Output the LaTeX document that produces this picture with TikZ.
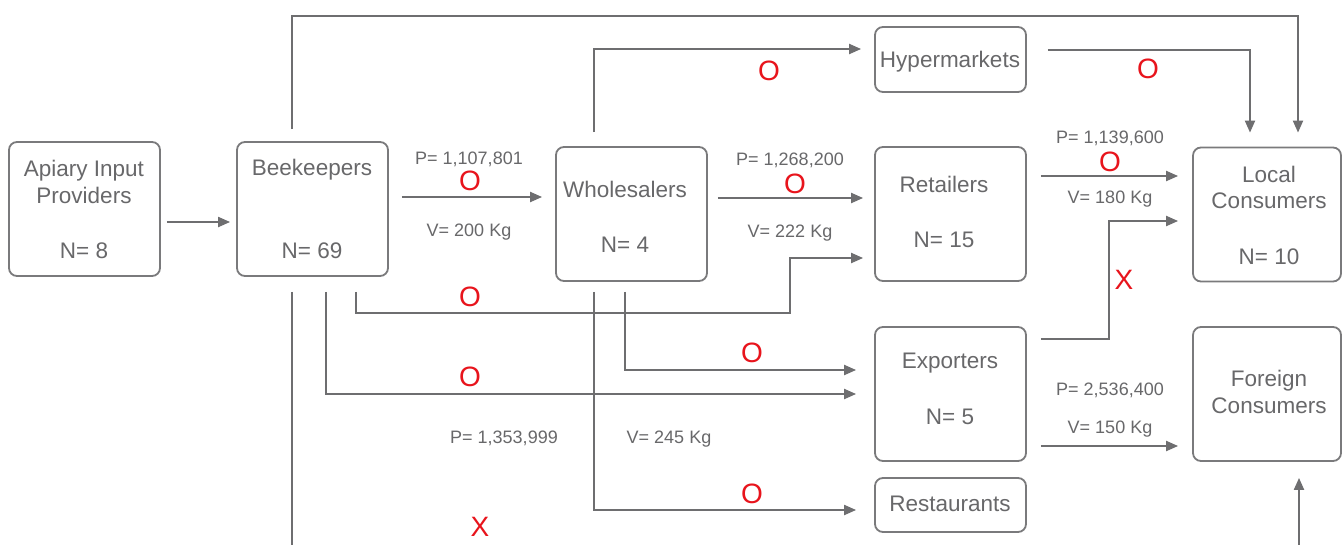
\documentclass[tikz,border=0pt]{standalone}
\usepackage{fontspec}
\setmainfont{Liberation Sans}
\usetikzlibrary{arrows.meta,calc}
\definecolor{linegray}{HTML}{6E6E70}
\definecolor{boxgray}{HTML}{7A7A7C}
\definecolor{txtgray}{HTML}{68686A}
\definecolor{markred}{HTML}{E8141C}
\begin{document}
\begin{tikzpicture}[x=1pt,y=-1pt,
  box/.style={draw=boxgray, line width=1.8pt, rounded corners=8pt, fill=white, inner sep=0pt},
  bigbox/.style={box, minimum width=151pt, minimum height=134pt},
  label base/.style={inner sep=0pt, text height=.72em, text depth=0pt, yshift=-5.5pt},
  boxtext/.style={label base, text=txtgray, font=\fontsize{22.5}{25}\selectfont},
  flowtext/.style={label base, yshift=2pt, text=txtgray, font=\fontsize{18}{20}\selectfont},
  redmark/.style={label base, text=markred, font=\fontsize{28}{30}\selectfont},
  arr/.style={draw=linegray, line width=2pt, -{Triangle[length=12pt,width=10pt]}}]

\useasboundingbox (0,0) rectangle (1343,544);
\fill[white] (0,0) rectangle (1343,544);
\clip (0,0) rectangle (1343,544);

% boxes
\node[bigbox] (api) at (84.5,209) {};
\node[bigbox] (bee) at (312.5,209) {};
\node[bigbox] (whol) at (631.5,214) {};
\node[box, minimum width=151pt, minimum height=65pt] (hyper) at (950.5,59.5) {};
\node[bigbox] (ret) at (950.5,214) {};
\node[box, minimum width=148pt, minimum height=134pt] (loc) at (1267,214.5) {};
\node[bigbox] (exp) at (950.5,394) {};
\node[box, minimum width=148pt, minimum height=134pt] (forg) at (1267,394) {};
\node[box, minimum width=151pt, minimum height=54pt] (rest) at (950.5,505) {};

% box texts
\node[boxtext] (apiA) at (84,167) {Apiary Input};
\node[boxtext] (apiB) at (84,194) {Providers};
\node[boxtext] (apiN) at (84,249) {N= 8};
\node[boxtext] (beeA) at (312,166) {Beekeepers};
\node[boxtext] (beeN) at (312,249) {N= 69};
\node[boxtext] (wholA) at (625,188) {Wholesalers};
\node[boxtext] (wholN) at (625,243) {N= 4};
\node[boxtext] (hyperA) at (950,58) {Hypermarkets};
\node[boxtext] (retA) at (944,183) {Retailers};
\node[boxtext] (retN) at (944,238) {N= 15};
\node[boxtext] (locA) at (1269,173) {Local};
\node[boxtext] (locB) at (1269,199) {Consumers};
\node[boxtext] (locN) at (1269,255) {N= 10};
\node[boxtext] (expA) at (950,359) {Exporters};
\node[boxtext] (expN) at (950,415) {N= 5};
\node[boxtext] (forgA) at (1269,377) {Foreign};
\node[boxtext] (forgB) at (1269,404) {Consumers};
\node[boxtext] (restA) at (950,502) {Restaurants};

% straight flows
\draw[arr] ($(api.east)+(6,13)$) -- ($(bee.west)+(-6,13)$);
\draw[arr] ($(bee.east)+(13,-12)$) -- ($(whol.west)+(-13,-17)$);
\draw[arr] ($(whol.east)+(10,-16)$) -- ($(ret.west)+(-11,-16)$);
\draw[arr] ($(ret.east)+(14,-38)$) -- ($(loc.west)+(-14,-38.5)$);
\draw[arr] ($(exp.east)+(14,52)$) -- ($(forg.west)+(-14,52)$);

% routed flows
\draw[arr] ($(exp.east)+(14,-55)$) -| ($(loc.west)+(-83,6.5)$) -- ($(loc.west)+(-14,6.5)$);
\draw[arr] ($(whol.north)+(-37.5,-14)$) |- ($(hyper.west)+(-13,-10.5)$);
\draw[arr] ($(hyper.east)+(21,-9.5)$) -| ($(loc.north)+(-17,-14)$);
\draw[arr] ($(bee.north)+(-20.5,-12)$) |- ($(loc.north)+(31,-131)$) -- ($(loc.north)+(31,-14)$);
\draw[arr] ($(bee.south)+(43.5,15)$) |- ($(ret.west)+(-84,99)$) |- ($(ret.west)+(-11,44)$);
\draw[arr] ($(bee.south)+(13.5,15)$) |- ($(exp.west)+(-18,0)$);
\draw[arr] ($(whol.south)+(-6.5,10)$) |- ($(exp.west)+(-18,-24)$);
\draw[arr] ($(whol.south)+(-37.5,10)$) |- ($(rest.west)+(-18,5)$);
\draw[arr] ($(bee.south)+(-20.5,15)$) |- ($(forg.south)+(32,100)$) -- ($(forg.south)+(32,16)$);

% prices and volumes
\node[flowtext] (p1) at (469,157) {P= 1,107,801};
\node[flowtext] (v1) at (469,229) {V= 200 Kg};
\node[flowtext] (p2) at (790,158) {P= 1,268,200};
\node[flowtext] (v2) at (790,230) {V= 222 Kg};
\node[flowtext] (p3) at (1110,136) {P= 1,139,600};
\node[flowtext] (v3) at (1110,196) {V= 180 Kg};
\node[flowtext] (p4) at (1110,388) {P= 2,536,400};
\node[flowtext] (v4) at (1110,426) {V= 150 Kg};
\node[flowtext] (p5) at (504,436) {P= 1,353,999};
\node[flowtext] (v5) at (669,436) {V= 245 Kg};

% trade marks on the flows
\node[redmark] (m1) at (470,181) {O};
\node[redmark] (m2) at (795,184) {O};
\node[redmark] (m3) at (1110,162) {O};
\node[redmark] (m4) at (769,71) {O};
\node[redmark] (m5) at (1148,69) {O};
\node[redmark] (m6) at (470,297) {O};
\node[redmark] (m7) at (470,377) {O};
\node[redmark] (m8) at (752,353) {O};
\node[redmark] (m9) at (752,494) {O};
\node[redmark] (x1) at (1124,280) {X};
\node[redmark] (x2) at (480,527) {X};
\end{tikzpicture}
\end{document}
